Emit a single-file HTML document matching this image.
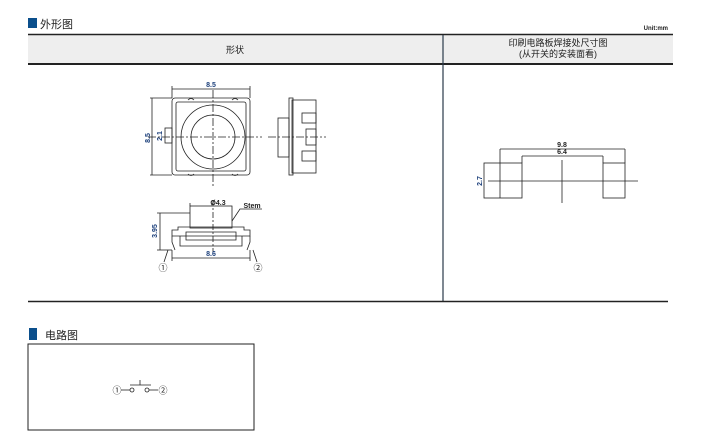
<!DOCTYPE html>
<html><head><meta charset="utf-8"><style>
html,body{margin:0;padding:0;background:#fff;width:711px;height:436px;overflow:hidden}
svg{display:block}
text{font-family:"Liberation Sans","Noto Sans CJK SC",sans-serif}
</style></head><body>
<svg width="711" height="436" viewBox="0 0 711 436" xmlns="http://www.w3.org/2000/svg">
<rect x="28" y="18" width="9" height="10" fill="#0b4f8c"/>
<text x="40" y="28" font-size="11" fill="#222">外形图</text>
<text x="668" y="30" font-size="6" text-anchor="end" fill="#222" font-weight="bold">Unit:mm</text>
<rect x="28" y="35" width="645" height="29" fill="#eeeeee"/>
<line x1="28" y1="34.5" x2="673" y2="34.5" stroke="#222" stroke-width="1.5"/>
<line x1="28" y1="64" x2="673" y2="64" stroke="#222" stroke-width="2"/>
<line x1="443" y1="35" x2="443" y2="301" stroke="#2a3a4a" stroke-width="1.2"/>
<line x1="28" y1="301.5" x2="668" y2="301.5" stroke="#222" stroke-width="1.5"/>
<text x="235" y="53" font-size="9" text-anchor="middle" fill="#222">形状</text>
<text x="558" y="46" font-size="9" text-anchor="middle" fill="#222">印刷电路板焊接处尺寸图</text>
<text x="558" y="57" font-size="9" text-anchor="middle" fill="#222">(从开关的安装面看)</text>

<g stroke="#222" fill="none" stroke-width="0.8">
<rect x="172" y="98" width="78" height="77" rx="3"/>
<rect x="176" y="102" width="70" height="69" rx="2"/>
<circle cx="213" cy="137" r="32"/>
<circle cx="213" cy="137" r="22"/>
<rect x="165" y="128" width="7" height="15"/>
<path d="M188 100 q3 -3 6 0 M232 100 q3 -3 6 0 M188 174 q3 3 6 0 M232 174 q3 3 6 0"/>
<line x1="172" y1="89" x2="250" y2="89"/><line x1="172" y1="86" x2="172" y2="98"/><line x1="250" y1="86" x2="250" y2="98"/>
<line x1="152" y1="98" x2="152" y2="175"/><line x1="150" y1="98" x2="172" y2="98"/><line x1="150" y1="175" x2="172" y2="175"/>
<line x1="148" y1="137" x2="262" y2="137" stroke-dasharray="8 2 2 2"/>
<line x1="213" y1="90" x2="213" y2="186" stroke-dasharray="8 2 2 2"/>
<rect x="292" y="100" width="24" height="73"/>
<rect x="289" y="98" width="4" height="77"/>
<rect x="278" y="118" width="11" height="39"/>
<rect x="302" y="113" width="14" height="10"/><rect x="306" y="129" width="10" height="16"/><rect x="302" y="151" width="14" height="10"/>
<line x1="268" y1="137" x2="326" y2="137" stroke-dasharray="8 2 2 2"/>
<rect x="190" y="206" width="42" height="22"/>
<path d="M172 236 h78 v-6 h-6 v-3 h-66 v3 h-6 z"/>
<path d="M180 236 v10 h62 v-10 M186 232 h50 v8 h-50 z"/>
<path d="M172 236 v6 l3 8 M250 236 v6 l-3 8"/>
<line x1="190" y1="203" x2="190" y2="206"/>
<line x1="213" y1="200" x2="213" y2="252" stroke-dasharray="6 2 2 2"/>
<line x1="160" y1="213" x2="160" y2="250"/><line x1="157" y1="213" x2="190" y2="213"/><line x1="157" y1="250" x2="172" y2="250"/>
<line x1="172" y1="258" x2="250" y2="258"/><line x1="172" y1="250" x2="172" y2="261"/><line x1="250" y1="250" x2="250" y2="261"/>
<path d="M262 209 h-22 l-8 12"/>
<path d="M168 250 l-4 12 M253 250 l4 12"/>
<rect x="484" y="163" width="38" height="35"/>
<line x1="500" y1="163" x2="500" y2="198"/>
<rect x="603" y="163" width="22" height="35"/>
<line x1="500" y1="149" x2="625" y2="149"/><line x1="500" y1="149" x2="500" y2="163"/><line x1="625" y1="149" x2="625" y2="163"/>
<line x1="522" y1="156" x2="603" y2="156"/><line x1="522" y1="156" x2="522" y2="163"/><line x1="603" y1="156" x2="603" y2="163"/>
<line x1="488" y1="181" x2="638" y2="181"/>
<line x1="562" y1="160" x2="562" y2="203"/>
</g>
<g font-size="7" fill="#1a3e7a" text-anchor="middle" font-weight="bold">
<text x="211" y="87">8.5</text>
<text x="211" y="256">8.6</text>
<text x="218" y="205" fill="#222">Ø4.3</text>
<text x="252" y="208" fill="#222">Stem</text>
<text x="150" y="138" transform="rotate(-90 150 138)">8.5</text>
<text x="162" y="136" transform="rotate(-90 162 136)">2.1</text>
<text x="157" y="231" transform="rotate(-90 157 231)">3.95</text>
<text x="562" y="147" fill="#222">9.8</text>
<text x="562" y="154" fill="#222">6.4</text>
<text x="482" y="181" transform="rotate(-90 482 181)">2.7</text>
</g>
<text x="163" y="271" font-size="9" text-anchor="middle" fill="#222">①</text>
<text x="258" y="271" font-size="9" text-anchor="middle" fill="#222">②</text>

<rect x="29" y="328" width="8" height="12" fill="#0b4f8c"/>
<text x="45" y="339" font-size="11" fill="#222">电路图</text>
<rect x="28" y="344" width="226" height="86" fill="none" stroke="#222" stroke-width="1"/>
<g stroke="#222" fill="none" stroke-width="0.8">
<line x1="121" y1="390" x2="130" y2="390"/>
<circle cx="132" cy="390" r="2"/>
<circle cx="147" cy="390" r="2"/>
<line x1="149" y1="390" x2="158" y2="390"/>
<line x1="130" y1="385" x2="151" y2="385"/>
<line x1="140" y1="380" x2="140" y2="385"/>
</g>
<text x="117" y="393.5" font-size="9" text-anchor="middle" fill="#222">①</text>
<text x="163" y="393.5" font-size="9" text-anchor="middle" fill="#222">②</text>
</svg>
</body></html>
